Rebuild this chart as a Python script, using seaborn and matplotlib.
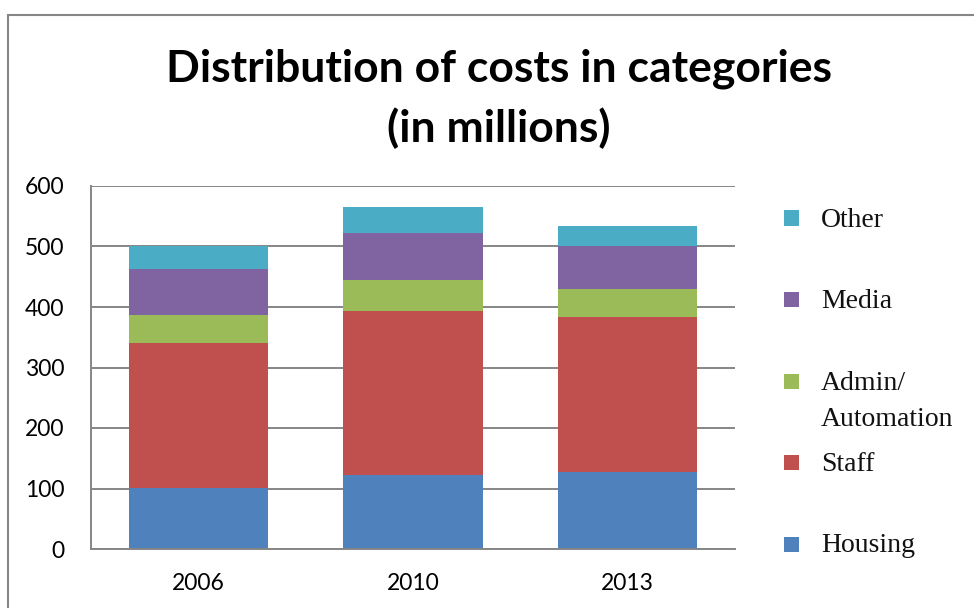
import numpy as np
import pandas as pd
import seaborn as sns
import matplotlib.pyplot as plt
from matplotlib.patches import Rectangle

# values (millions)
years = ['2006', '2010', '2013']
categories = ['Housing', 'Staff', 'Admin/\nAutomation', 'Media', 'Other']
housing = [101, 123, 127]
staff = [240, 270, 256]
admin = [45, 51, 46]
media = [76, 78, 71]
other = [38, 44, 34]
colors = ['#4F81BD', '#C0504D', '#9BBB59', '#8064A2', '#4BACC6']

sns.set_style('white')
plt.rcParams['font.family'] = ['Lato', 'DejaVu Sans']

data = pd.DataFrame({'year': years, 'Housing': housing, 'Staff': staff,
                     'Admin/\nAutomation': admin, 'Media': media, 'Other': other})
# cumulative totals so the layers can be drawn on top of each other
cum = data[categories].cumsum(axis=1)
cum['year'] = data['year']

W, H = 974, 608
fig = plt.figure(figsize=(W / 100, H / 100), dpi=100)
ax = fig.add_axes([91 / W, (H - 549) / H, (735 - 91) / W, (549 - 186) / H])

# draw tallest stack first, then each lower layer over it
for cat, col in reversed(list(zip(categories, colors))):
    sns.barplot(data=cum, x='year', y=cat, color=col, width=0.65,
                saturation=1, linewidth=0, ax=ax)

ax.set_ylim(0, 600)
ax.set_xlim(-0.5, 2.5)
ax.set_yticks(range(0, 601, 100))
ax.set_xlabel('')
ax.set_ylabel('')
ax.yaxis.grid(True, color='#868686', lw=1.4)
ax.set_axisbelow(True)
for s in ['top', 'right']:
    ax.spines[s].set_visible(False)
for s in ['left', 'bottom']:
    ax.spines[s].set_color('#868686')
    ax.spines[s].set_linewidth(1.4)
ax.tick_params(axis='y', length=0, pad=19, labelsize=16.5, labelcolor='black')
ax.tick_params(axis='x', length=0, pad=17, labelsize=16.5, labelcolor='black')

# title
fig.text(499 / W, 1 - 99 / H, 'Distribution of costs in categories\n(in millions)',
         ha='center', va='center', fontsize=32, fontweight='bold', linespacing=1.52,
         color='black')

# legend drawn by hand to follow the reference spacing
for i, (cat, col) in enumerate(zip(reversed(categories), reversed(colors))):
    yc = 218 + i * 81.5
    fig.add_artist(Rectangle((784 / W, 1 - (yc + 7.5) / H), 15 / W, 15 / H,
                             transform=fig.transFigure, color=col, lw=0))
    for j, line in enumerate(cat.split('\n')):
        fig.text(821 / W, 1 - (yc + 2 + j * 36) / H, line, ha='left', va='center',
                 fontsize=20, family='Liberation Serif', color='#111111')

# outer chart border
fig.add_artist(Rectangle((8 / W, -0.1), 1.0, 1.1 - 15 / H, transform=fig.transFigure,
                         fill=False, edgecolor='#868686', lw=1.5))

fig.savefig('out.png', dpi=100)
